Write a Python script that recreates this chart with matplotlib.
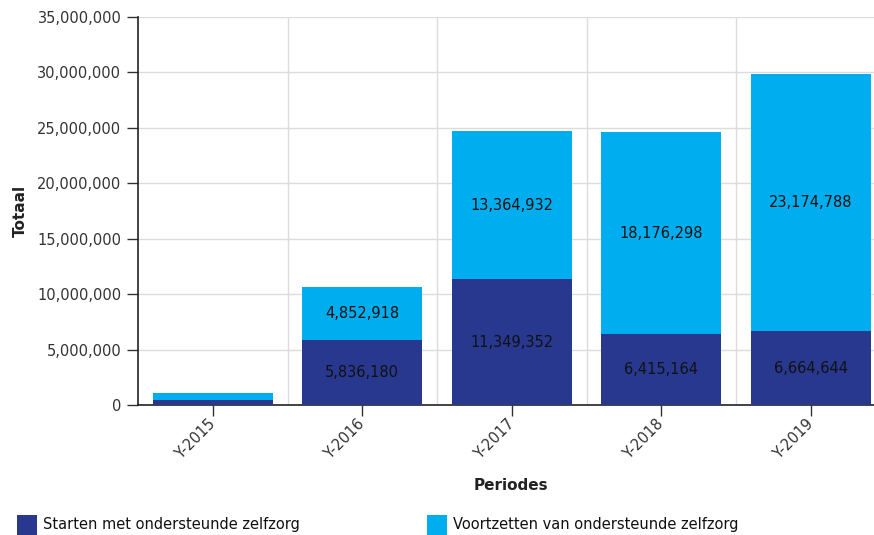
import matplotlib
matplotlib.use("Agg")
import matplotlib.pyplot as plt
from matplotlib.patches import Rectangle
from matplotlib.ticker import FuncFormatter, MultipleLocator

periods = ["Y-2015", "Y-2016", "Y-2017", "Y-2018", "Y-2019"]
starten = [480000, 5836180, 11349352, 6415164, 6664644]
voortzetten = [620000, 4852918, 13364932, 18176298, 23174788]
show_labels = [False, True, True, True, True]

dark = "#28388f"
light = "#00aeef"
plt.rcParams["font.family"] = "DejaVu Sans"

fig = plt.figure(figsize=(8.74, 5.35), dpi=100)
W, H = 874, 535
left, right, top, bottom = 138, 885.5, 17, 405
ax = fig.add_axes([left / W, 1 - bottom / H, (right - left) / W, (bottom - top) / H])

x = list(range(len(periods)))
ax.bar(x, starten, width=0.8, color=dark, zorder=3)
ax.bar(x, voortzetten, width=0.8, bottom=starten, color=light, zorder=3)

for i in x:
    if not show_labels[i]:
        continue
    ax.text(i, starten[i] / 2, f"{starten[i]:,}", ha="center", va="center",
            fontsize=10.5, color="#111111", zorder=4)
    ax.text(i, starten[i] + voortzetten[i] / 2, f"{voortzetten[i]:,}", ha="center",
            va="center", fontsize=10.5, color="#111111", zorder=4)

ax.set_xlim(-0.5, len(periods) - 0.5)
ax.set_ylim(0, 35000000)
ax.yaxis.set_major_locator(MultipleLocator(5000000))
ax.yaxis.set_major_formatter(FuncFormatter(lambda v, p: f"{int(v):,}"))
ax.set_xticks(x)
ax.set_xticklabels(periods, rotation=45, ha="right", va="center", rotation_mode="anchor")
ax.set_xticks([i + 0.5 for i in x[:-1]], minor=True)

ax.grid(axis="y", which="major", color="#dcdcdc", linewidth=1, zorder=0)
ax.grid(axis="x", which="minor", color="#dcdcdc", linewidth=1, zorder=0)
ax.tick_params(axis="x", which="minor", length=0)
ax.tick_params(axis="both", which="major", labelsize=10.5, labelcolor="#333333",
               color="#333333", length=8, width=1, direction="out", pad=4)

for s in ["top", "right"]:
    ax.spines[s].set_visible(False)
for s in ["left", "bottom"]:
    ax.spines[s].set_color("#222222")
    ax.spines[s].set_linewidth(1.2)

fig.text(20 / W, 1 - 211 / H, "Totaal", rotation=90, ha="center", va="center",
         fontsize=11, fontweight="bold", color="#222222")
fig.text(511 / W, 1 - 485 / H, "Periodes", ha="center", va="center",
         fontsize=11, fontweight="bold", color="#222222")

# legend entries along the bottom edge
for px, color, label in [(17, dark, "Starten met ondersteunde zelfzorg"),
                         (427, light, "Voortzetten van ondersteunde zelfzorg")]:
    fig.patches.append(Rectangle((px / W, 0), 20 / W, 20 / H, transform=fig.transFigure,
                                 facecolor=color, edgecolor="none"))
    fig.text((px + 26) / W, 1 - 525 / H, label, ha="left", va="center",
             fontsize=10.5, color="#111111")

fig.savefig("out.png", dpi=100)
